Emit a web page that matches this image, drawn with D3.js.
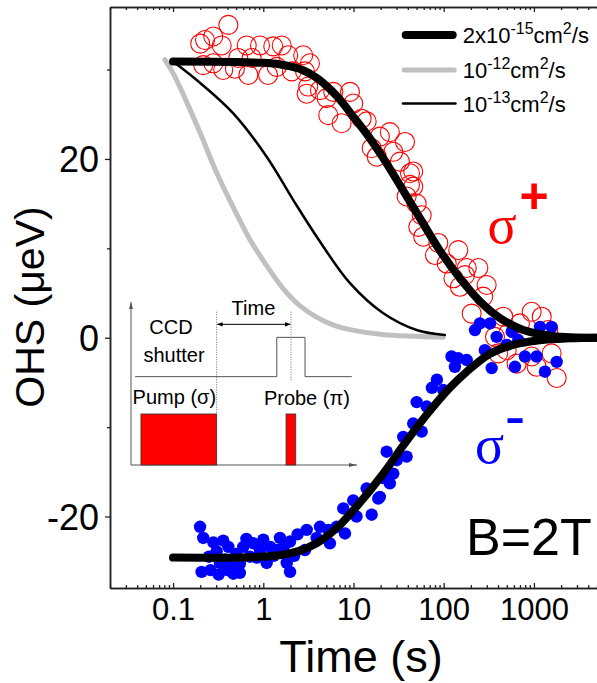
<!DOCTYPE html>
<html><head><meta charset="utf-8">
<script src="https://cdn.jsdelivr.net/npm/d3@7"></script>
<style>html,body{margin:0;padding:0;background:#fff;} svg{display:block;}</style>
</head><body>
<svg id="chart" width="597" height="683"></svg>
<script>
// ---------- data (time in s, OHS in µeV) ----------
const sigmaPlusData = [
 [0.2,32.9],[0.216,30.5],[0.226,33.3],[0.279,33.7],[0.279,30.7],[0.346,32.7],[0.36,29.95],[0.41,35.0],
 [0.485,30.1],[0.528,31.3],[0.655,32.7],[0.683,29.4],[0.743,31.3],[0.92,32.7],[1.13,29.4],[1.29,32.6],
 [1.41,30.3],[1.6,32.7],[1.89,31.6],[2.07,29.8],[2.77,31.6],[2.9,29.8],[3.03,27.3],[3.15,28.1],[3.29,30.7],
 [4.25,27.7],[5.04,26.8],[5.25,24.9],[5.97,27.5],[7.39,24.0],[9.14,27.5],[9.94,26.2],[12.3,24.5],[14.0,24.2],
 [15.9,21.2],[18.1,20.25],[19.6,22.5],[25.3,23.0],[27.6,20.8],[32.7,19.7],[37.2,21.9],[38.8,15.8],[42.3,17.1],
 [42.3,18.4],[45.9,18.6],[45.9,16.9],[50.1,15.0],[52.3,12.4],[57,13.7],[59.3,11.3],[80,9.25],[87.1,10.6],
 [108,8.3],[128,6.65],[145,9.8],[151,5.7],[172,7.0],[180,7.8],[204,2.7],[242,7.8],[274,4.6],[299,5.9],
 [370,0.1],[402,-1.75],[457,2.35],[499,-1.4],[519,0.5],[643,-2.9],[700,1.6],[944,2.9],[944,-2.1],
 [1072,-3.25],[1220,2.35],[1442,0.86],[1570,-1.75],[1787,-4.5]
];
const sigmaMinusData = [
 [0.199,-21.15],[0.207,-26.2],[0.216,-22.4],[0.25,-24.5],[0.26,-26.0],[0.28,-22.9],[0.304,-23.9],[0.32,-26.5],
 [0.331,-25.2],[0.36,-22.7],[0.38,-24.8],[0.4,-26.0],[0.41,-23.4],[0.43,-25.6],[0.465,-26.4],[0.5,-24.2],
 [0.55,-25.3],[0.55,-26.3],[0.6,-23.4],[0.65,-22.5],[0.711,-24.5],[0.775,-23.0],[0.85,-24.6],[0.918,-23.75],
 [1.0,-22.6],[1.09,-25.2],[1.2,-23.4],[1.3,-24.4],[1.41,-23.75],[1.53,-22.4],[1.7,-23.3],[1.82,-25.2],
 [1.98,-22.8],[1.98,-26.2],[2.2,-24.4],[2.4,-22.0],[2.9,-23.75],[3.03,-21.5],[3.91,-22.4],[4.25,-21.15],
 [5.25,-21.5],[5.48,-23.0],[6.5,-21.15],[7.7,-19.1],[8.04,-21.9],[9.94,-18.2],[10.8,-20.0],[14.0,-16.85],
 [15.9,-19.8],[18.8,-18.0],[19.6,-17.8],[21.4,-15.7],[23.3,-12.75],[25.3,-16.3],[27.6,-15.2],[30.1,-13.7],
 [35.6,-11.1],[38.8,-13.3],[45.9,-9.6],[50.1,-7.2],[57,-10.5],[64.7,-7.7],[74,-5.6],[84,-4.7],[98.9,-5.85],
 [122,-2.1],[133,-3.25],[145,-2.3],[180,-2.5],[222,0.86],[252,1.6],[286,-1.4],[326,1.6],[340,-3.4],
 [386,0.1],[499,-0.8],[566,0.67],[616,-3.25],[670,-0.26],[794,-2.1],[1072,-2.1],[1167,1.2],[1324,-3.8],
 [1570,1.2],[1787,-2.7]
];
// model curves, D = 2e-15 cm^2/s (fits), 1e-12 and 1e-13 cm^2/s
const fitPlus = [[0.1,30.9],[0.5,30.85],[1,30.75],[1.5,30.6],[2,30.35],[2.8,29.9],[4,29.0],[5.5,27.8],[7,26.7],
 [10,24.7],[14,22.8],[21,20.2],[33,17.0],[50,14.0],[90,9.8],[150,6.7],[250,4.1],[420,2.2],[750,0.9],[1600,0.2],[5000,0.0]];
const fitMinus = [[0.1,-24.6],[0.7,-24.55],[1.6,-24.3],[2.5,-23.85],[3.9,-23.0],[6.5,-21.3],[10.8,-18.9],
 [21,-15.3],[36,-12.0],[65,-8.6],[117,-5.6],[180,-3.8],[326,-1.8],[586,-0.8],[1165,-0.28],[2500,-0.07],[5000,0]];
const fitD12 = [[0.081,31.1],[0.1,29.6],[0.13,27.2],[0.2,22.9],[0.3,18.6],[0.48,14.3],[0.71,11.0],[1.1,8.0],
 [1.66,5.5],[2.6,3.5],[3.9,2.3],[6,1.4],[9.1,0.9],[21,0.35],[99,0.05]];
const fitD13 = [[0.1,30.9],[0.2,28.5],[0.465,25.1],[1.09,20.25],[2.15,15.4],[3.91,11.3],[9.14,6.1],
 [21.4,2.73],[50,0.86],[103,0.3]];

const xDomain = [0.02, 5000];
const yDomain = [-28, 37];
const xTicks = [0.1, 1, 10, 100, 1000];
const xTickLabels = ["0.1", "1", "10", "100", "1000"];
const yTicks = [-20, 0, 20];
const yTickLabels = ["-20", "0", "20"];
const yMinorTicks = [-10, 10, 30];
const legendItems = [
  {pre:"2x10", exp:"-15", key:"thick"},
  {pre:"10", exp:"-12", key:"gray"},
  {pre:"10", exp:"-13", key:"thin"}
];

// ---------- drawing ----------
const FONT = "'Liberation Sans', Arial, sans-serif";
const svg = d3.select("#chart");
const M = {left:110, right:597, top:7, bottom:588};
const x = d3.scaleLog().domain(xDomain).range([M.left, M.right]);
const y = d3.scaleLinear().domain(yDomain).range([M.bottom, M.top]);

const styles = {
  thick: {stroke:"#000", width:8},
  gray:  {stroke:"#c0c0c0", width:5},
  thin:  {stroke:"#000", width:2.5}
};

// data points
svg.append("g").selectAll("circle").data(sigmaPlusData).join("circle")
  .attr("cx", d => x(d[0])).attr("cy", d => y(d[1])).attr("r", 9.5)
  .attr("fill", "none").attr("stroke", "#ff0000").attr("stroke-width", 1.1);
svg.append("g").selectAll("circle").data(sigmaMinusData).join("circle")
  .attr("cx", d => x(d[0])).attr("cy", d => y(d[1])).attr("r", 6.2)
  .attr("fill", "#0000ff");

// curves
const line = d3.line().x(d => x(d[0])).y(d => y(d[1])).curve(d3.curveCatmullRom.alpha(0.5));
[[fitD12,"gray"],[fitD13,"thin"],[fitPlus,"thick"],[fitMinus,"thick"]].forEach(([data,k]) => {
  svg.append("path").datum(data).attr("d", line).attr("fill","none")
    .attr("stroke", styles[k].stroke).attr("stroke-width", styles[k].width)
    .attr("stroke-linecap","round").attr("stroke-linejoin","round");
});

// axes
const axisColor = "#222";
function styleAxis(g){
  g.selectAll("path.domain").attr("stroke", axisColor).attr("stroke-width", 1.5);
  g.selectAll(".tick line").attr("stroke", axisColor).attr("stroke-width", 1.3);
}
const xMinor = [];
for (let e = -2; e <= 3; e++) for (let m = 1; m <= 9; m++) {
  const v = +(m * Math.pow(10, e)).toPrecision(6);
  if (v >= xDomain[0] && v <= xDomain[1] && !xTicks.includes(v)) xMinor.push(v);
}
const gxB = svg.append("g").attr("transform", `translate(0,${M.bottom})`)
  .call(d3.axisBottom(x).tickValues(xTicks).tickFormat((d,i)=>xTickLabels[i]).tickSizeInner(-5).tickSizeOuter(0));
styleAxis(gxB);
gxB.selectAll("text").attr("font-family", FONT).attr("font-size", 31).attr("fill","#000")
  .attr("y", 32).attr("dy", 0);
const gxBm = svg.append("g").attr("transform", `translate(0,${M.bottom})`)
  .call(d3.axisBottom(x).tickValues(xMinor).tickFormat("").tickSizeInner(-3).tickSizeOuter(0));
styleAxis(gxBm);
const gxT = svg.append("g").attr("transform", `translate(0,${M.top})`)
  .call(d3.axisTop(x).tickValues(xTicks).tickFormat("").tickSizeInner(-5).tickSizeOuter(0));
styleAxis(gxT);
const gxTm = svg.append("g").attr("transform", `translate(0,${M.top})`)
  .call(d3.axisTop(x).tickValues(xMinor).tickFormat("").tickSizeInner(-3).tickSizeOuter(0));
styleAxis(gxTm);

const gy = svg.append("g").attr("transform", `translate(${M.left},0)`)
  .call(d3.axisLeft(y).tickValues(yTicks).tickFormat((d,i)=>yTickLabels[i]).tickSizeInner(5).tickSizeOuter(0).tickPadding(6));
styleAxis(gy);
gy.selectAll("text").attr("font-family", FONT).attr("font-size", 36).attr("fill","#000").attr("dy","0.35em");
const gym = svg.append("g").attr("transform", `translate(${M.left},0)`)
  .call(d3.axisLeft(y).tickValues(yMinorTicks).tickFormat("").tickSizeInner(3).tickSizeOuter(0));
styleAxis(gym);

// axis titles
svg.append("text").attr("x", 361).attr("y", 672).attr("text-anchor","middle")
  .attr("font-family", FONT).attr("font-size", 45).text("Time (s)");
svg.append("text").attr("transform","translate(44,307) rotate(-90)").attr("text-anchor","middle")
  .attr("font-family", FONT).attr("font-size", 41).text("OHS (\u03bceV)");

// legend
const legY = [35, 70, 103.5];
legendItems.forEach((it, i) => {
  const s = styles[it.key];
  svg.append("line").attr("x1", 401.7 + s.width/2).attr("x2", 456.7 - s.width/2)
    .attr("y1", legY[i]).attr("y2", legY[i]).attr("stroke", s.stroke).attr("stroke-width", s.width)
    .attr("stroke-linecap","round");
  const t = svg.append("text").attr("x", 462.7).attr("y", legY[i] + 8.3)
    .attr("font-family", FONT).attr("font-size", 22);
  t.append("tspan").text(it.pre);
  t.append("tspan").attr("font-size", 16).attr("dy", -9).text(it.exp);
  t.append("tspan").attr("dy", 9).text("cm");
  t.append("tspan").attr("font-size", 16).attr("dy", -9).text("2");
  t.append("tspan").attr("dy", 9).text("/s");
});

// annotations
const SERIF = "'Liberation Serif', 'Times New Roman', serif";
svg.append("text").attr("x", 502).attr("y", 243).attr("text-anchor","middle")
  .attr("font-family", SERIF).attr("font-size", 54).attr("fill","#ff0000").text("\u03c3");
svg.append("text").attr("x", 534).attr("y", 213).attr("text-anchor","middle")
  .attr("font-family", FONT).attr("font-weight", 700).attr("font-size", 50).attr("fill","#ff0000").text("+");
svg.append("text").attr("x", 489.5).attr("y", 463).attr("text-anchor","middle")
  .attr("font-family", SERIF).attr("font-size", 54).attr("fill","#0000ff").text("\u03c3");
svg.append("text").attr("x", 515).attr("y", 437).attr("text-anchor","middle")
  .attr("font-family", FONT).attr("font-size", 62).attr("fill","#0000ff").text("-");
svg.append("text").attr("x", 466).attr("y", 555)
  .attr("font-family", FONT).attr("font-size", 52).attr("fill","#000").text("B=2T");

// ---------- inset: measurement sequence schematic (schematic units 0..100) ----------
const ix = d3.scaleLinear().domain([0,100]).range([131, 357]);
const iy = d3.scaleLinear().domain([0,100]).range([465, 302]);
const pumpPulse = {start:4.4, end:37.9, height:31.3};
const probePulse = {start:68.6, end:72.9, height:31.3};
const shutterLevel = {base:54.2, high:78.3, open:64.5, close:77.0, from:1.8, to:97.7};
const markers = {pumpEnd:37.9, probe:70.8, arrowLevel:86.3, top:94};
const ins = svg.append("g");
const gcol = "#555";
ins.append("line").attr("x1", ix(0)).attr("x2", ix(0)).attr("y1", iy(0)).attr("y2", iy(100)).attr("stroke", gcol).attr("stroke-width", 1);
ins.append("path").attr("d", d3.line()([[ix(0)-2, iy(100)+7],[ix(0), iy(100)],[ix(0)+2, iy(100)+7]])).attr("fill", gcol);
ins.append("line").attr("x1", ix(0)).attr("x2", ix(100)).attr("y1", iy(0)).attr("y2", iy(0)).attr("stroke", gcol).attr("stroke-width", 1);
ins.append("path").attr("d", d3.line()([[ix(100)-8, iy(0)-2],[ix(100), iy(0)],[ix(100)-8, iy(0)+2]])).attr("fill", gcol);
const sh = shutterLevel;
ins.append("path").attr("d", d3.line()([[ix(sh.from), iy(sh.base)],[ix(sh.open), iy(sh.base)],[ix(sh.open), iy(sh.high)],
  [ix(sh.close), iy(sh.high)],[ix(sh.close), iy(sh.base)],[ix(sh.to), iy(sh.base)]]))
  .attr("fill","none").attr("stroke", gcol).attr("stroke-width", 1);
[pumpPulse, probePulse].forEach(p => {
  ins.append("rect").attr("x", ix(p.start)).attr("y", iy(p.height)).attr("width", ix(p.end)-ix(p.start))
    .attr("height", iy(0)-iy(p.height)).attr("fill", "#ff0000").attr("stroke", "#333").attr("stroke-width", 0.8);
});
ins.append("line").attr("x1", ix(markers.pumpEnd)).attr("x2", ix(markers.pumpEnd)).attr("y1", iy(markers.top)).attr("y2", iy(0))
  .attr("stroke", "#444").attr("stroke-width", 0.8).attr("stroke-dasharray", "1,1.5");
ins.append("line").attr("x1", ix(markers.probe)).attr("x2", ix(markers.probe)).attr("y1", iy(markers.top)).attr("y2", iy(sh.base-3))
  .attr("stroke", "#444").attr("stroke-width", 0.8).attr("stroke-dasharray", "1,1.5");
ins.append("line").attr("x1", ix(markers.pumpEnd)+1).attr("x2", ix(markers.probe)-1).attr("y1", iy(markers.arrowLevel)).attr("y2", iy(markers.arrowLevel))
  .attr("stroke", "#000").attr("stroke-width", 1);
ins.append("path").attr("d", d3.line()([[ix(markers.pumpEnd)+6, iy(markers.arrowLevel)-2.2],[ix(markers.pumpEnd), iy(markers.arrowLevel)],[ix(markers.pumpEnd)+6, iy(markers.arrowLevel)+2.2]])).attr("fill","#000");
ins.append("path").attr("d", d3.line()([[ix(markers.probe)-6, iy(markers.arrowLevel)-2.2],[ix(markers.probe), iy(markers.arrowLevel)],[ix(markers.probe)-6, iy(markers.arrowLevel)+2.2]])).attr("fill","#000");
const insetTexts = [
  {t:"Time", x:44.5, y:92},
  {t:"CCD", x:8.1, y:80.3},
  {t:"shutter", x:5.5, y:63.4},
  {t:"Pump (\u03c3)", x:0.7, y:37.6},
  {t:"Probe (\u03c0)", x:58.8, y:36.8}
];
insetTexts.forEach(d => {
  ins.append("text").attr("x", ix(d.x)).attr("y", iy(d.y)).attr("font-family", FONT)
    .attr("font-size", 20).attr("fill", "#000").text(d.t);
});
</script>
</body></html>
